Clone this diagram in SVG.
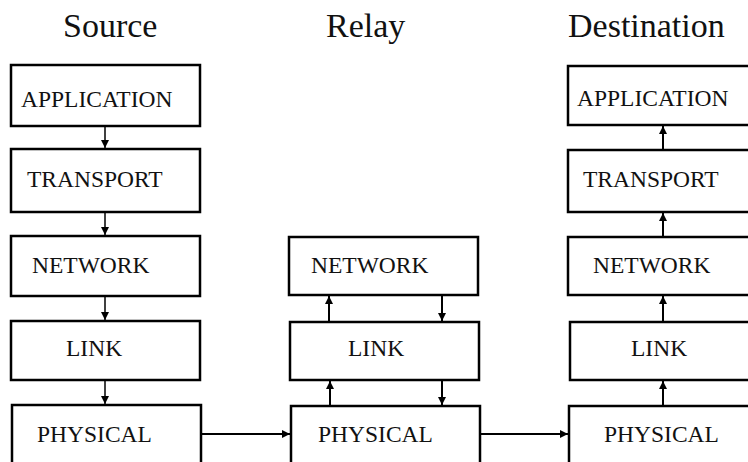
<svg xmlns="http://www.w3.org/2000/svg" width="748" height="462" viewBox="0 0 748 462">
  <style>
    .box { fill: #fff; stroke: #000; stroke-width: 2.5; }
    .lbl { font-family: "Liberation Serif", "Times New Roman", serif; font-size: 23.5px; fill: #111; }
    .ttl { font-family: "Liberation Serif", "Times New Roman", serif; font-size: 34px; fill: #111; }
    .wire { stroke: #000; stroke-width: 2; fill: none; }
    .thin { stroke-width: 1.5; }
  </style>
  <defs>
    <marker id="head" viewBox="0 0 10 10" refX="10" refY="5" markerWidth="9" markerHeight="8" markerUnits="userSpaceOnUse" orient="auto">
      <path d="M0,0 L10,5 L0,10 Z" fill="#000"/>
    </marker>
    <marker id="headS" viewBox="0 0 10 10" refX="10" refY="5" markerWidth="9" markerHeight="8" markerUnits="userSpaceOnUse" orient="auto">
      <path d="M0,0 L10,5 L0,10 Z" fill="#000"/>
    </marker>
  </defs>

  <rect width="748" height="462" fill="#fff"/>

  <!-- column titles -->
  <text class="ttl" x="63" y="37">Source</text>
  <text class="ttl" x="326" y="37">Relay</text>
  <text class="ttl" x="568" y="37">Destination</text>

  <!-- Source stack -->
  <g id="src-application"><rect class="box" x="11" y="65" width="189" height="61"/><text class="lbl" x="21" y="107">APPLICATION</text></g>
  <g id="src-transport"><rect class="box" x="11" y="149" width="189" height="63"/><text class="lbl" x="27" y="187">TRANSPORT</text></g>
  <g id="src-network"><rect class="box" x="11" y="236" width="189" height="60"/><text class="lbl" x="32" y="273">NETWORK</text></g>
  <g id="src-link"><rect class="box" x="11" y="321" width="189" height="59"/><text class="lbl" x="66" y="356">LINK</text></g>
  <g id="src-physical"><rect class="box" x="12" y="405" width="189" height="70"/><text class="lbl" x="37" y="442">PHYSICAL</text></g>

  <!-- Relay stack -->
  <g id="rly-network"><rect class="box" x="289" y="237" width="189" height="58"/><text class="lbl" x="311" y="273">NETWORK</text></g>
  <g id="rly-link"><rect class="box" x="290" y="322" width="189" height="58"/><text class="lbl" x="348" y="356">LINK</text></g>
  <g id="rly-physical"><rect class="box" x="291" y="406" width="189" height="70"/><text class="lbl" x="318" y="442">PHYSICAL</text></g>

  <!-- Destination stack -->
  <g id="dst-application"><rect class="box" x="568" y="66" width="200" height="59"/><text class="lbl" x="577" y="106">APPLICATION</text></g>
  <g id="dst-transport"><rect class="box" x="568" y="150" width="200" height="62"/><text class="lbl" x="583" y="187">TRANSPORT</text></g>
  <g id="dst-network"><rect class="box" x="568" y="237" width="200" height="58"/><text class="lbl" x="593" y="273">NETWORK</text></g>
  <g id="dst-link"><rect class="box" x="570" y="322" width="200" height="58"/><text class="lbl" x="631" y="356">LINK</text></g>
  <g id="dst-physical"><rect class="box" x="569" y="406" width="200" height="70"/><text class="lbl" x="604" y="442">PHYSICAL</text></g>

  <!-- connectors -->
  <g id="connectors">
    <!-- source: downward -->
    <line class="wire thin" x1="105" y1="127" x2="105" y2="148" marker-end="url(#headS)"/>
    <line class="wire thin" x1="105" y1="213" x2="105" y2="235" marker-end="url(#headS)"/>
    <line class="wire thin" x1="105" y1="297" x2="105" y2="320" marker-end="url(#headS)"/>
    <line class="wire thin" x1="105" y1="381" x2="105" y2="404" marker-end="url(#headS)"/>
    <!-- relay: up on the left, down on the right -->
    <line class="wire" x1="329" y1="321" x2="329" y2="296" marker-end="url(#head)"/>
    <line class="wire" x1="442" y1="296" x2="442" y2="321" marker-end="url(#head)"/>
    <line class="wire" x1="330" y1="405" x2="330" y2="381" marker-end="url(#head)"/>
    <line class="wire" x1="442" y1="381" x2="442" y2="405" marker-end="url(#head)"/>
    <!-- destination: upward -->
    <line class="wire" x1="663" y1="405" x2="663" y2="381" marker-end="url(#head)"/>
    <line class="wire" x1="663" y1="321" x2="663" y2="296" marker-end="url(#head)"/>
    <line class="wire" x1="663" y1="236" x2="663" y2="213" marker-end="url(#head)"/>
    <line class="wire" x1="663" y1="149" x2="663" y2="126" marker-end="url(#head)"/>
    <!-- physical links -->
    <line class="wire" x1="201" y1="434" x2="290" y2="434" marker-end="url(#head)"/>
    <line class="wire" x1="480" y1="434" x2="568" y2="434" marker-end="url(#head)"/>
  </g>
</svg>
